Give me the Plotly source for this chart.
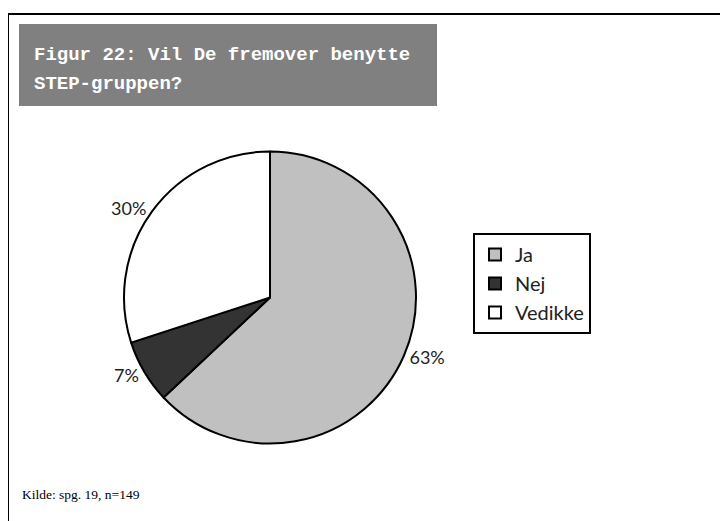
import plotly.graph_objects as go

labels = ["Ja", "Nej", "Vedikke"]
values = [63, 7, 30]
colors = ["#C0C0C0", "#333333", "#FFFFFF"]
title_lines = ["Figur 22: Vil De fremover benytte", "STEP-gruppen?"]
source_text = "Kilde: spg. 19, n=149"

W, H = 728, 521
OFF = 8  # page body margin
def px(x):
    return (x - OFF) / W
def py(y):
    return 1 - (y - OFF) / H

fig = go.Figure()
fig.add_trace(go.Pie(
    labels=labels, values=values, sort=False, direction="clockwise", rotation=0,
    marker=dict(colors=colors, line=dict(color="black", width=2)),
    textinfo="percent", textposition="outside",
    texttemplate="%{percent:.0%}",
    textfont=dict(family="Lato", size=18, color="#222"),
    domain=dict(x=[px(124), px(416)], y=[py(443.5), py(151.5)]),
    hoverinfo="label+percent",
))

shapes = [
    dict(type="rect", xref="paper", yref="paper", x0=px(8), x1=px(760), y0=py(14), y1=py(560),
         line=dict(color="black", width=2), fillcolor="rgba(0,0,0,0)"),
    dict(type="rect", xref="paper", yref="paper", x0=px(19), x1=px(437), y0=py(24), y1=py(106),
         line=dict(width=0), fillcolor="#808080", layer="below"),
]
annotations = [
    dict(text="<b>%s</b>" % title_lines[0], x=px(32), y=py(55), xref="paper", yref="paper",
         xanchor="left", yanchor="middle", showarrow=False,
         font=dict(family="Liberation Mono", size=19, color="white")),
    dict(text="<b>%s</b>" % title_lines[1], x=px(32), y=py(84), xref="paper", yref="paper",
         xanchor="left", yanchor="middle", showarrow=False,
         font=dict(family="Liberation Mono", size=19, color="white")),
    dict(text=source_text, x=px(20), y=py(494), xref="paper", yref="paper",
         xanchor="left", yanchor="middle", showarrow=False,
         font=dict(family="Liberation Serif", size=13.5, color="black")),
]

fig.update_layout(
    width=W, height=H, margin=dict(l=0, r=0, t=0, b=0),
    paper_bgcolor="white", plot_bgcolor="white",
    shapes=shapes, annotations=annotations,
    showlegend=True,
    legend=dict(x=px(473), y=py(233), xanchor="left", yanchor="top",
                bordercolor="black", borderwidth=2, bgcolor="white",
                font=dict(family="Lato", size=20, color="#222"),
                itemwidth=30),
)
fig.write_html("out.html")
